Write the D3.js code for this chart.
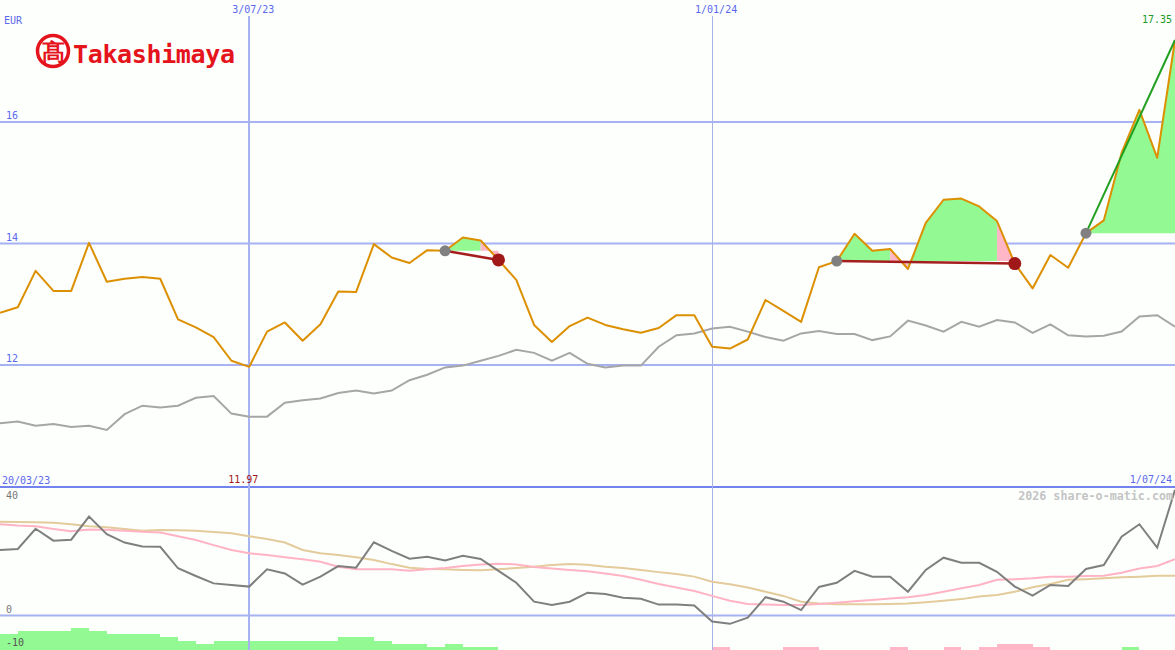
<!DOCTYPE html>
<html>
<head>
<meta charset="utf-8">
<script src="https://cdn.jsdelivr.net/npm/d3@7"></script>
<style>
  html, body { margin: 0; padding: 0; background: #fdfffd; }
  svg { display: block; }
  text { font-family: "DejaVu Sans Mono", monospace; }
</style>
</head>
<body>
<svg id="chart" width="1175" height="650"></svg>
<script>
// ---------------- DATA ----------------
const dates = [
  "2023-03-27","2023-04-03","2023-04-10","2023-04-17","2023-04-24","2023-05-01","2023-05-08","2023-05-15","2023-05-22","2023-05-29",
  "2023-06-05","2023-06-12","2023-06-19","2023-06-26","2023-07-03","2023-07-10","2023-07-17","2023-07-24","2023-07-31","2023-08-07",
  "2023-08-14","2023-08-21","2023-08-28","2023-09-04","2023-09-11","2023-09-18","2023-09-25","2023-10-02","2023-10-09","2023-10-16",
  "2023-10-23","2023-10-30","2023-11-06","2023-11-13","2023-11-20","2023-11-27","2023-12-04","2023-12-11","2023-12-18","2023-12-25",
  "2024-01-01","2024-01-08","2024-01-15","2024-01-22","2024-01-29","2024-02-05","2024-02-12","2024-02-19","2024-02-26","2024-03-04",
  "2024-03-11","2024-03-18","2024-03-25","2024-04-01","2024-04-08","2024-04-15","2024-04-22","2024-04-29","2024-05-06","2024-05-13",
  "2024-05-20","2024-05-27","2024-06-03","2024-06-10","2024-06-17","2024-06-24","2024-07-01"
];
const price = [
  12.86,12.95,13.55,13.22,13.22,14.01,13.37,13.42,13.45,13.42,
  12.75,12.62,12.46,12.07,11.97,12.55,12.70,12.40,12.67,13.21,
  13.20,13.99,13.77,13.68,13.89,13.88,14.10,14.05,13.73,13.40,
  12.66,12.38,12.64,12.78,12.66,12.59,12.53,12.61,12.82,12.82,
  12.30,12.27,12.42,13.07,12.89,12.71,13.61,13.71,14.16,13.88,
  13.91,13.58,14.34,14.72,14.74,14.61,14.37,13.67,13.26,13.81,
  13.60,14.17,14.38,15.49,16.20,15.41,17.35
];
const benchmark = [
  11.04,11.07,11.00,11.03,10.98,11.00,10.93,11.19,11.33,11.30,
  11.33,11.46,11.49,11.20,11.15,11.15,11.38,11.42,11.45,11.54,
  11.58,11.53,11.58,11.75,11.84,11.96,11.99,12.07,12.15,12.25,
  12.20,12.07,12.20,12.02,11.96,11.99,11.99,12.30,12.49,12.52,
  12.60,12.63,12.55,12.46,12.40,12.52,12.56,12.51,12.51,12.41,
  12.47,12.73,12.65,12.55,12.71,12.63,12.74,12.70,12.53,12.67,
  12.49,12.47,12.48,12.55,12.80,12.82,12.63
];
const oscillator = [
  20.4,20.7,27.0,23.3,23.6,30.8,25.3,22.7,21.5,21.4,
  14.7,12.3,10.0,9.5,9.0,14.4,13.1,9.6,12.1,15.4,
  14.9,22.8,20.1,17.7,18.3,17.1,18.6,17.6,13.9,10.2,
  4.3,3.3,4.3,7.1,6.7,5.5,5.2,3.4,3.4,3.1,
  -1.9,-2.6,-0.7,5.7,4.3,1.7,8.9,10.2,13.9,12.1,
  12.1,7.4,14.2,18.0,16.4,16.4,13.6,9.0,6.2,9.5,
  9.2,14.5,15.7,24.5,28.4,21.1,39.1
];
const oscFast = [
  28.4,28.0,27.8,26.9,26.2,26.8,26.7,26.4,26.1,25.8,
  24.7,23.5,21.9,20.4,19.4,18.8,18.1,17.5,16.7,15.2,
  14.4,14.4,14.4,13.9,14.4,14.8,15.4,15.9,16.1,15.9,
  15.1,14.6,14.2,13.8,13.1,12.3,11.1,9.8,8.7,7.6,
  6.1,4.6,3.6,3.4,3.3,3.3,3.6,4.0,4.4,4.8,
  5.3,5.7,6.4,7.4,8.5,9.5,11.1,11.3,11.6,12.1,
  12.1,12.3,12.4,13.3,14.6,15.4,17.5
];
const oscSlow = [
  29.2,29.1,29.0,28.9,28.4,27.8,27.5,26.9,26.4,26.6,
  26.5,26.4,26.0,25.6,24.7,23.8,22.7,20.4,19.4,18.8,
  18.1,17.3,16.0,14.9,14.5,14.4,14.2,14.1,14.4,14.8,
  15.2,15.7,16.0,15.8,15.2,14.8,14.2,13.5,12.9,12.1,
  10.5,9.7,8.7,7.4,6.1,4.3,3.7,3.5,3.5,3.5,
  3.6,3.7,4.1,4.6,5.1,5.9,6.4,7.4,8.8,9.8,
  11.1,11.3,11.6,11.9,12.1,12.4,12.4
];
// histogram per weekly slot (positive = green, negative = pink)
const histogram = [
  5,6,6,6,7,6,5,5,5,4,
  3,2,3,3,3,3,3,3,3,4,
  4,3,2,2,1,2,1,1,0,0,
  0,0,0,0,0,0,0,0,0,0,
  -1,0,0,0,-1,-1,0,0,0,0,
  -1,0,0,-1,0,-1,-2,-2,-1,0,
  0,0,0,1,0,0
];
// trades: index of buy week, index of sell week (null = open)
const trades = [
  { buy: 25, sell: 28 },
  { buy: 47, sell: 57 },
  { buy: 61, sell: null }
];
const lossSegments = [27, 50, 56];
const priceTicks = [12, 14, 16];
const indicatorTicks = [40, 0, -10];
const markerDates = ["2023-07-03", "2024-01-01"];
const markerLabels = ["3/07/23", "1/01/24"];
const startLabel = "20/03/23", endLabel = "1/07/24";
const currency = "EUR";
const lowLabel = "11.97", highLabel = "17.35";
const watermark = "2026 share-o-matic.com";

// ---------------- SCALES ----------------
const W = 1175, H = 650;
const parse = d3.timeParse("%Y-%m-%d");
const dts = dates.map(parse);
const x = d3.scaleTime().domain([dts[0], dts[dts.length - 1]]).range([0, W]);
const y = d3.scaleLinear().domain([12, 16]).range([365, 122]);
const yi = d3.scaleLinear().domain([0, 40]).range([615.5, 487]);
const yb = d3.scaleLinear().domain([0, 7]).range([650, 628]);

const svg = d3.select("#chart");
svg.append("rect").attr("width", W).attr("height", H).attr("fill", "#fdfffd");

const GRID = "#a6b2f2";
const LABEL = "#5a68ec";
const GAIN = "#93f993", LOSS = "#ffb6c6";

// histogram bars
svg.append("g").attr("shape-rendering", "crispEdges").selectAll("rect")
  .data(histogram.map((v, i) => ({ v, i })).filter(d => d.v !== 0))
  .join("rect")
  .attr("x", d => Math.round(x(dts[d.i])))
  .attr("width", d => Math.round(x(dts[d.i + 1])) - Math.round(x(dts[d.i])))
  .attr("y", d => yb(Math.abs(d.v)))
  .attr("height", d => yb(0) - yb(Math.abs(d.v)))
  .attr("fill", d => d.v > 0 ? GAIN : LOSS);

// price gridlines
svg.append("g").selectAll("line").data(priceTicks).join("line")
  .attr("x1", 0).attr("x2", W)
  .attr("y1", d => y(d)).attr("y2", d => y(d))
  .attr("stroke", GRID).attr("stroke-width", 2);

// indicator lines
svg.append("line").attr("x1", 0).attr("x2", W)
  .attr("y1", yi(0)).attr("y2", yi(0))
  .attr("stroke", GRID).attr("stroke-width", 2);
svg.append("line").attr("x1", 0).attr("x2", W)
  .attr("y1", yi(40)).attr("y2", yi(40))
  .attr("stroke", "#7282ee").attr("stroke-width", 2);

// vertical date lines
markerDates.forEach((d, k) => {
  const xx = Math.round(x(parse(d))) + (k === 0 ? 0 : 0.5);
  svg.append("line").attr("x1", xx).attr("x2", xx).attr("y1", 16).attr("y2", H)
    .attr("stroke", k === 0 ? GRID : "#aab3e6")
    .attr("stroke-width", k === 0 ? 2 : 1);
});

// trade fills: contiguous runs of same colour
const area = d3.area().x(d => x(dts[d])).y1(d => y(price[d]));
trades.forEach(t => {
  const end = t.sell === null ? price.length - 1 : t.sell;
  const base = y(price[t.buy]);
  let runStart = t.buy;
  for (let i = t.buy; i < end; i++) {
    const c = lossSegments.includes(i);
    const nextDiff = (i + 1 >= end) || (lossSegments.includes(i + 1) !== c);
    if (nextDiff) {
      svg.append("path")
        .attr("d", area.y0(base)(d3.range(runStart, i + 2)))
        .attr("fill", c ? LOSS : GAIN);
      runStart = i + 1;
    }
  }
});

// benchmark line
const line = d3.line().x((d, i) => x(dts[i])).y(d => y(d));
svg.append("path").attr("d", line(benchmark))
  .attr("fill", "none").attr("stroke", "#a6a6a6").attr("stroke-width", 2);

// price line
svg.append("path").attr("d", line(price))
  .attr("fill", "none").attr("stroke", "#dc9000").attr("stroke-width", 2)
  .attr("stroke-linejoin", "round");

// trade lines and markers
trades.forEach(t => {
  const end = t.sell === null ? price.length - 1 : t.sell;
  svg.append("line")
    .attr("x1", x(dts[t.buy])).attr("y1", y(price[t.buy]))
    .attr("x2", x(dts[end])).attr("y2", y(price[end]))
    .attr("stroke", t.sell === null ? "#22a022" : "#a51e1e")
    .attr("stroke-width", t.sell === null ? 2 : 2.5);
});
trades.forEach(t => {
  svg.append("circle").attr("cx", x(dts[t.buy])).attr("cy", y(price[t.buy]))
    .attr("r", 5.5).attr("fill", "#808080");
  if (t.sell !== null) {
    svg.append("circle").attr("cx", x(dts[t.sell])).attr("cy", y(price[t.sell]))
      .attr("r", 6.5).attr("fill", "#a01818");
  }
});

// indicator lines
const iline = d3.line().x((d, i) => x(dts[i])).y(d => yi(d));
svg.append("path").attr("d", iline(oscSlow))
  .attr("fill", "none").attr("stroke", "#e3cb9b").attr("stroke-width", 2);
svg.append("path").attr("d", iline(oscFast))
  .attr("fill", "none").attr("stroke", "#ffb3c3").attr("stroke-width", 2);
svg.append("path").attr("d", iline(oscillator))
  .attr("fill", "none").attr("stroke", "#7f7f7f").attr("stroke-width", 2);

// ---------------- TEXT ----------------
const txt = (s, xx, yy, fill, anchor = "start", size = 10, weight = "normal") =>
  svg.append("text").attr("x", xx).attr("y", yy).attr("fill", fill)
    .attr("text-anchor", anchor).attr("font-size", size).attr("font-weight", weight).text(s);

txt(currency, 4, 24, LABEL);
priceTicks.forEach(v => txt(String(v), 6, y(v) - 3, LABEL));
markerDates.forEach((d, k) => txt(markerLabels[k], x(parse(d)) + 4, 13, LABEL, "middle"));
txt(highLabel, 1172, 23, "#229922", "end");
txt(startLabel, 2, 484, LABEL);
txt(endLabel, 1172, 483, LABEL, "end");
txt(lowLabel, x(dts[price.indexOf(d3.min(price))]) - 6, 483, "#a01818", "middle");
txt(String(indicatorTicks[0]), 6, yi(40) + 12, "#777777");
txt(String(indicatorTicks[1]), 6, yi(0) - 3, "#777777");
txt(String(indicatorTicks[2]), 6, 646, "#555555");
txt(watermark, 1173, 500, "#c4c4c4", "end", 11.7, "bold");

// ---------------- LOGO ----------------
const logo = svg.append("g");
logo.append("circle").attr("cx", 53).attr("cy", 51).attr("r", 15.5)
  .attr("fill", "#fff").attr("stroke", "#e5141c").attr("stroke-width", 3.5);
logo.append("text").attr("x", 53).attr("y", 60).attr("text-anchor", "middle")
  .attr("font-family", "Noto Sans CJK JP").attr("font-weight", 900)
  .attr("font-size", 23).attr("fill", "#e5141c").text("髙");
logo.append("text").attr("x", 73).attr("y", 63)
  .attr("font-family", "DejaVu Serif").attr("font-weight", "bold")
  .attr("font-size", 25).attr("fill", "#e5141c")
  .attr("textLength", 162).attr("lengthAdjust", "spacing")
  .text("Takashimaya");
</script>
</body>
</html>
